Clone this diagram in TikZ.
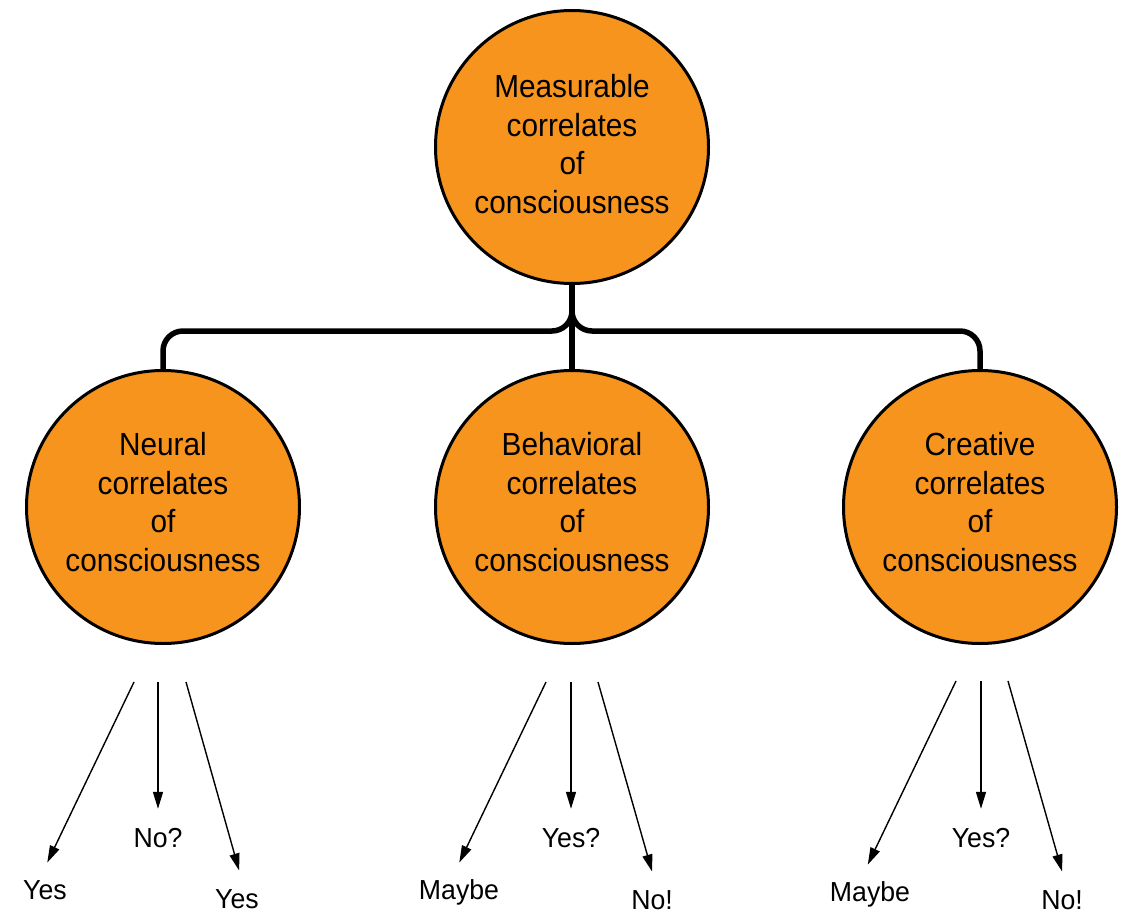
\documentclass[tikz,border=0pt]{standalone}
\usepackage{fontspec}
\setmainfont{Liberation Sans}
\newfontfamily\circfont[FakeStretch=0.93]{Liberation Sans}
\newfontfamily\lblfont[FakeStretch=0.97]{Liberation Sans}
\usetikzlibrary{arrows.meta}
\definecolor{corange}{RGB}{247,148,30}
\begin{document}
\begin{tikzpicture}[x=1pt,y=-1pt,
  circ/.style={circle, draw=black, line width=3pt, fill=corange, minimum size=273pt, inner sep=0pt},
  ctext/.style={align=center, inner sep=0pt, font=\circfont\fontsize{32}{38.5}\selectfont},
  conn/.style={line width=5.5pt, rounded corners=20pt},
  lbl/.style={font=\lblfont\fontsize{27.5}{32}\selectfont, inner sep=0pt, text height=20pt, text depth=0pt},
  arr/.style={line width=1.4pt, -{Triangle[length=17pt,width=10pt]}, shorten >=18pt}]
\useasboundingbox (0,0) rectangle (1127,915);

% circles
\node[circ] (top) at (572,147) {};
\node[circ] (neu) at (163,507) {};
\node[circ] (beh) at (572,507) {};
\node[circ] (cre) at (980,507) {};
\node[ctext] (topt) at (572,144) {Measurable\\correlates\\of\\consciousness};
\node[ctext] (neut) at (163,502) {Neural\\correlates\\of\\consciousness};
\node[ctext] (beht) at (572,502) {Behavioral\\correlates\\of\\consciousness};
\node[ctext] (cret) at (980,502) {Creative\\correlates\\of\\consciousness};

% tree connectors
\coordinate (hj) at (0,331);
\draw[conn] (top.south) -- (beh.north);
\draw[conn] (top.south) |- (neu.north |- hj) -- (neu.north);
\draw[conn] (top.south) |- (cre.north |- hj) -- (cre.north);

% arrow starts
\coordinate (n1) at (134,682);
\coordinate (n2) at (158,682);
\coordinate (n3) at (186,682);
\coordinate (b1) at (546,682);
\coordinate (b2) at (571,682);
\coordinate (b3) at (598,682);
\coordinate (c1) at (956,681);
\coordinate (c2) at (981,681);
\coordinate (c3) at (1008,681);

% labels
\node[lbl] (ny1) at (45,889) {Yes};
\node[lbl] (nn)  at (158,837) {No?};
\node[lbl] (ny2) at (237,898) {Yes};
\node[lbl] (bm)  at (459,889) {Maybe};
\node[lbl] (by)  at (571,837) {Yes?};
\node[lbl] (bn)  at (652,899) {No!};
\node[lbl] (cm)  at (870,891) {Maybe};
\node[lbl] (cy)  at (981,837) {Yes?};
\node[lbl] (cn)  at (1062,899) {No!};

% arrows
\draw[arr] (n1) -- ([xshift=-5.5pt]ny1.north);
\draw[arr] (n2) -- (nn.north);
\draw[arr] (n3) -- ([xshift=7pt]ny2.north);
\draw[arr] (b1) -- ([xshift=-7.5pt]bm.north);
\draw[arr] (b2) -- (by.north);
\draw[arr] (b3) -- ([xshift=5pt]bn.north);
\draw[arr] (c1) -- ([xshift=-10pt]cm.north);
\draw[arr] (c2) -- (cy.north);
\draw[arr] (c3) -- ([xshift=5pt]cn.north);
\end{tikzpicture}
\end{document}
